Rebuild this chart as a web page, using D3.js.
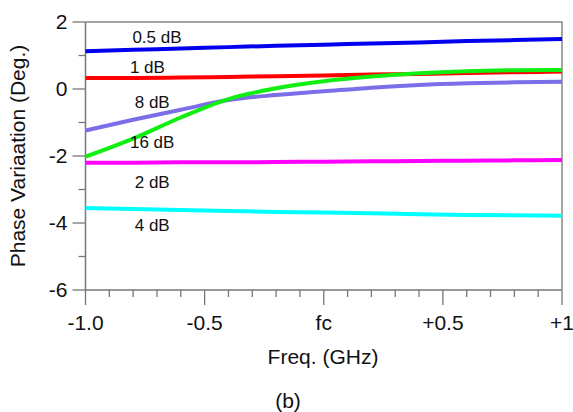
<!DOCTYPE html>
<html>
<head>
<meta charset="utf-8">
<script src="https://cdn.jsdelivr.net/npm/d3@7"></script>
<style>
  body { margin: 0; background: #fff; }
  text { font-family: "Liberation Sans", Arial, sans-serif; fill: #111; }
</style>
</head>
<body>
<svg width="573" height="412"></svg>
<script>
// data
let freq = [-1, -0.8, -0.6, -0.4, -0.2, 0, 0.2, 0.4, 0.6, 0.8, 1];
let att05 = [1.13, 1.17, 1.21, 1.25, 1.29, 1.32, 1.36, 1.39, 1.43, 1.46, 1.49];
let att1 = [0.33, 0.33, 0.34, 0.36, 0.38, 0.40, 0.43, 0.45, 0.48, 0.50, 0.52];
let att8 = [-1.24, -0.92, -0.62, -0.33, -0.18, -0.07, 0.04, 0.12, 0.17, 0.20, 0.22];
let att16 = [-2.02, -1.48, -0.85, -0.30, 0.02, 0.23, 0.37, 0.47, 0.53, 0.56, 0.57];
let att2 = [-2.20, -2.20, -2.19, -2.19, -2.18, -2.17, -2.16, -2.15, -2.14, -2.13, -2.12];
let att4 = [-3.55, -3.58, -3.61, -3.64, -3.67, -3.69, -3.71, -3.74, -3.76, -3.77, -3.78];

let seriesNames = ["0.5 dB", "1 dB", "8 dB", "16 dB", "2 dB", "4 dB"];
let seriesColors = ["#0000ee", "#ff0000", "#7b6ee8", "#11ee11", "#ff00ff", "#00ffff"];
// label anchors in data units (freq, deg)
let labelFreq = [-0.70, -0.74, -0.72, -0.72, -0.72, -0.72];
let labelDeg = [1.55, 0.66, -0.39, -1.58, -2.78, -4.06];

let xTicks = [-1, -0.5, 0, 0.5, 1];
let xTickLabels = ["-1.0", "-0.5", "fc", "+0.5", "+1"];
let yTicks = [-6, -4, -2, 0, 2];

let series = [att05, att1, att8, att16, att2, att4];

let svg = d3.select("svg");
let m = { left: 85.5, right: 562, top: 22, bottom: 290 };

let x = d3.scaleLinear().domain([-1, 1]).range([m.left, m.right]);
let y = d3.scaleLinear().domain([-6, 2]).range([m.bottom, m.top]);

// frame (top + right)
svg.append("path")
  .attr("d", `M${m.left},${m.top}H${m.right}V${m.bottom}`)
  .attr("fill", "none")
  .attr("stroke", "#888")
  .attr("stroke-width", 1.5);

// x axis, minor ticks
let xMinor = d3.range(-1, 1.001, 0.1).map((d) => Math.round(d * 10) / 10);
let gx = svg.append("g").attr("transform", `translate(0,${m.bottom})`);
gx.append("line")
  .attr("x1", m.left).attr("x2", m.right)
  .attr("stroke", "#777").attr("stroke-width", 1.5);
gx.selectAll(".minor")
  .data(xMinor)
  .join("line")
  .attr("x1", (d) => x(d)).attr("x2", (d) => x(d))
  .attr("y1", 0).attr("y2", (d) => (xTicks.includes(d) ? 15 : 7))
  .attr("stroke", "#777").attr("stroke-width", 1.3);
gx.selectAll("text")
  .data(xTicks)
  .join("text")
  .attr("x", (d) => x(d))
  .attr("y", 33)
  .attr("dy", "0.35em")
  .attr("text-anchor", "middle")
  .attr("font-size", 21)
  .text((d, i) => xTickLabels[i]);

// y axis
let gy = svg.append("g").attr("transform", `translate(${m.left},0)`);
gy.append("line")
  .attr("y1", m.top).attr("y2", m.bottom)
  .attr("stroke", "#777").attr("stroke-width", 1.5);
gy.selectAll(".tick")
  .data(d3.range(-6, 2.001, 1))
  .join("line")
  .attr("y1", (d) => y(d)).attr("y2", (d) => y(d))
  .attr("x1", (d) => (yTicks.includes(d) ? -13 : -7)).attr("x2", 0)
  .attr("stroke", "#777").attr("stroke-width", 1.3);
gy.selectAll("text")
  .data(yTicks)
  .join("text")
  .attr("x", -18)
  .attr("y", (d) => y(d))
  .attr("dy", "0.35em")
  .attr("text-anchor", "end")
  .attr("font-size", 21)
  .text((d) => d);

// series
let line = d3.line()
  .x((d, i) => x(freq[i]))
  .y((d) => y(d))
  .curve(d3.curveMonotoneX);

svg.append("g")
  .selectAll("path")
  .data(series)
  .join("path")
  .attr("d", line)
  .attr("fill", "none")
  .attr("stroke", (d, i) => seriesColors[i])
  .attr("stroke-width", 4);

svg.append("g")
  .selectAll("text")
  .data(seriesNames)
  .join("text")
  .attr("x", (d, i) => x(labelFreq[i]))
  .attr("y", (d, i) => y(labelDeg[i]))
  .attr("dy", "0.35em")
  .attr("text-anchor", "middle")
  .attr("font-size", 17)
  .text((d) => d);

// titles
svg.append("text")
  .attr("transform", `translate(18,${(m.top + m.bottom) / 2}) rotate(-90)`)
  .attr("dy", "0.35em")
  .attr("text-anchor", "middle")
  .attr("font-size", 21)
  .text("Phase Variaation (Deg.)");

svg.append("text")
  .attr("x", 323)
  .attr("y", 357)
  .attr("dy", "0.35em")
  .attr("text-anchor", "middle")
  .attr("font-size", 21)
  .text("Freq. (GHz)");

svg.append("text")
  .attr("x", 288)
  .attr("y", 401)
  .attr("dy", "0.35em")
  .attr("text-anchor", "middle")
  .attr("font-size", 21)
  .text("(b)");
</script>
</body>
</html>
